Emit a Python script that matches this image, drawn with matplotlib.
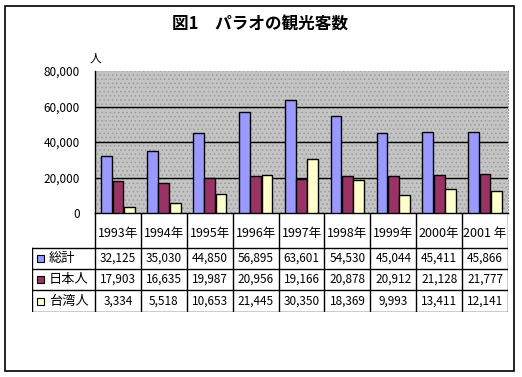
import numpy as np
import matplotlib as mpl
mpl.use('Agg')
from matplotlib import pyplot as plt
from matplotlib.patches import Rectangle

plt.rcParams['font.family'] = ['Noto Sans CJK JP', 'DejaVu Sans']
plt.rcParams['hatch.color'] = '#8c8c8c'
plt.rcParams['hatch.linewidth'] = 0.6

### data
years = ['1993年', '1994年', '1995年', '1996年', '1997年', '1998年', '1999年', '2000年', '2001 年']
series_names = ['総計', '日本人', '台湾人']
total = [32125, 35030, 44850, 56895, 63601, 54530, 45044, 45411, 45866]
japan = [17903, 16635, 19987, 20956, 19166, 20878, 20912, 21128, 21777]
taiwan = [3334, 5518, 10653, 21445, 30350, 18369, 9993, 13411, 12141]
colors = ['#9999ff', '#993366', '#ffffcc']
yticks = [0, 20000, 40000, 60000, 80000]

W, H = 522, 377
fig = plt.figure(figsize=(W / 100, H / 100), dpi=100)

def px(x0, y0, x1, y1):
    return [x0 / W, 1 - y1 / H, (x1 - x0) / W, (y1 - y0) / H]

# outer frame
fig.patches.append(Rectangle((4.5 / W, 1 - 370.5 / H), 509 / W, 365 / H,
                             transform=fig.transFigure, fill=False,
                             edgecolor='black', linewidth=1.2))

fig.text(260 / W, 1 - 25 / H, '図1　パラオの観光客数', ha='center', va='center',
         fontsize=12, fontweight='bold')

######## bar chart
ax = fig.add_axes(px(95, 71, 508, 213))
ax.add_patch(Rectangle((0, 0), 1, 1, transform=ax.transAxes, facecolor='#c4c4c4',
                       hatch='....', edgecolor='#9a9a9a', linewidth=0, zorder=0))
ax.set_facecolor('#c4c4c4')
x = np.arange(len(years))
bw = 0.235
for i, (vals, c) in enumerate(zip([total, japan, taiwan], colors)):
    ax.bar(x + (i - 1) * bw * 1.05, vals, bw, color=c, edgecolor='black',
           linewidth=1, zorder=3)
ax.set_xlim(-0.5, len(years) - 0.5)
ax.set_ylim(0, 80000)
ax.set_yticks(yticks)
ax.set_yticklabels(['{:,}'.format(v) for v in yticks], fontsize=8.5)
ax.tick_params(axis='y', length=0, pad=11)
ax.set_xticks([])
for v in yticks[1:-1]:
    ax.axhline(v, color='black', linewidth=1, zorder=2)
ax.spines['top'].set_visible(False)
ax.spines['right'].set_color('#9a9a9a')
ax.spines['right'].set_linestyle(':')
ax.spines['left'].set_linewidth(1)
ax.spines['bottom'].set_linewidth(1)
fig.text(95 / W, 1 - 58 / H, '人', ha='center', va='center', fontsize=8.5)

######## data table
tax = fig.add_axes(px(32, 213, 508, 312))
cw = (508 - 95) / len(years)
lab_w = (95 - 32) / cw
tax.set_xlim(-0.5 - lab_w, len(years) - 0.5)
tax.set_ylim(99, 0)
tax.axis('off')
rows = [0, 35, 56, 77, 99]
for k in range(len(years) + 1):
    tax.plot([k - 0.5, k - 0.5], [0, 99], color='black', linewidth=1)
for r in rows[1:]:
    tax.plot([-0.5 - lab_w, len(years) - 0.5], [r, r], color='black', linewidth=1)
tax.plot([-0.5 - lab_w, -0.5 - lab_w], [35, 99], color='black', linewidth=1)
for k, yl in enumerate(years):
    tax.text(k, 20, yl, ha='center', va='center', fontsize=9)
for j, (name, vals, c) in enumerate(zip(series_names, [total, japan, taiwan], colors)):
    yc = (rows[j + 1] + rows[j + 2]) / 2
    tax.add_patch(Rectangle((-0.5 - lab_w + 5 / cw, yc - 3.5), 7 / cw, 7,
                            facecolor=c, edgecolor='black', linewidth=0.8))
    tax.text(-0.5 - lab_w + 17 / cw, yc, name, ha='left', va='center', fontsize=9.5)
    for k, v in enumerate(vals):
        tax.text(k, yc, '{:,}'.format(v), ha='center', va='center', fontsize=8.5)

fig.savefig('out.png', dpi=100)
plt.close()
